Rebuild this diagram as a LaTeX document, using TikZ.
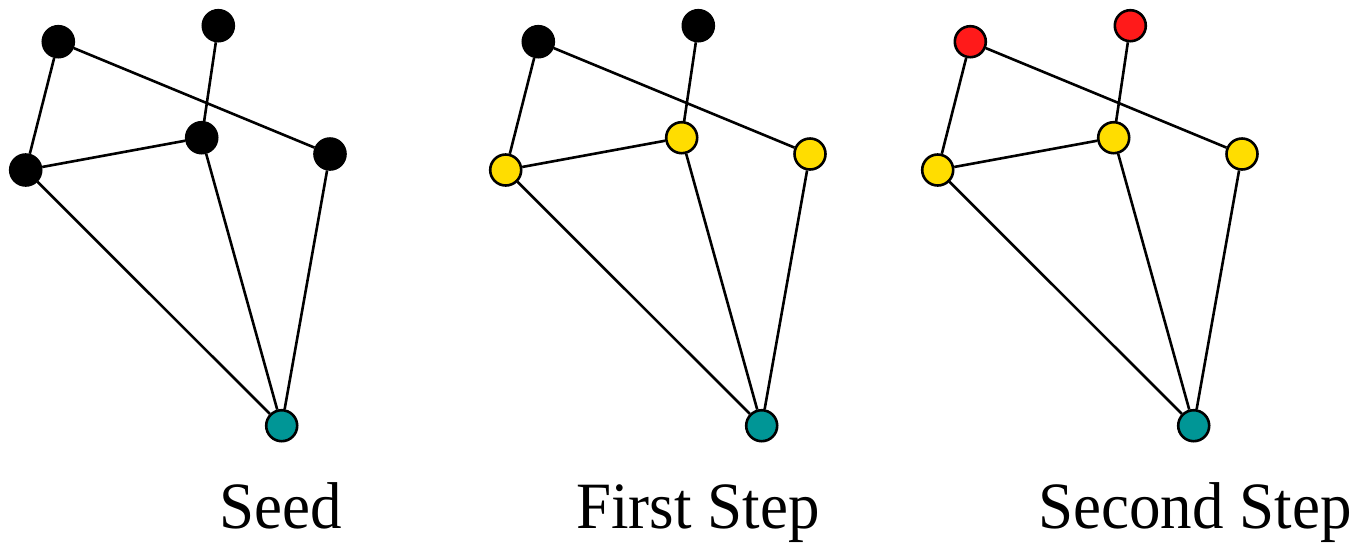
\documentclass[tikz,border=0pt]{standalone}
\usepackage{fontspec}
\setmainfont{Liberation Serif}
\definecolor{nodeyellow}{RGB}{255,221,0}
\definecolor{nodered}{RGB}{255,26,26}
\definecolor{nodeteal}{RGB}{0,150,150}
\tikzset{
  vtx/.style={circle, draw=black, line width=2.6pt, minimum size=31pt, inner sep=0pt},
  blk/.style={vtx, fill=black},
  yel/.style={vtx, fill=nodeyellow},
  rd/.style={vtx, fill=nodered},
  tl/.style={vtx, fill=nodeteal},
  edge/.style={line width=2.6pt, draw=black},
  lbl/.style={anchor=base, font=\fontsize{63}{70}\selectfont, inner sep=0pt, yscale=1.05}
}
\begin{document}
\begin{tikzpicture}[x=1pt,y=-1pt]
\useasboundingbox (0,0) rectangle (1360,542);
% Graph 1: Seed
\node[blk] (a1) at (58.3,41.7) {};
\node[blk] (b1) at (218.3,25.7) {};
\node[blk] (c1) at (25.7,170) {};
\node[blk] (d1) at (201.7,137.7) {};
\node[blk] (e1) at (330,154) {};
\node[tl]  (f1) at (281.7,425.7) {};
% Graph 2: First Step
\node[blk] (a2) at (538.3,41.7) {};
\node[blk] (b2) at (698.3,25.7) {};
\node[yel] (c2) at (505.7,170) {};
\node[yel] (d2) at (681.7,137.7) {};
\node[yel] (e2) at (810,154) {};
\node[tl]  (f2) at (761.7,425.7) {};
% Graph 3: Second Step
\node[rd]  (a3) at (970.3,41.7) {};
\node[rd]  (b3) at (1130.3,25.7) {};
\node[yel] (c3) at (937.7,170) {};
\node[yel] (d3) at (1113.7,137.7) {};
\node[yel] (e3) at (1242,154) {};
\node[tl]  (f3) at (1193.7,425.7) {};
\foreach \i in {1,2,3}{
  \draw[edge] (a\i) -- (e\i);
  \draw[edge] (a\i) -- (c\i);
  \draw[edge] (b\i) -- (d\i);
  \draw[edge] (c\i) -- (d\i);
  \draw[edge] (c\i) -- (f\i);
  \draw[edge] (d\i) -- (f\i);
  \draw[edge] (e\i) -- (f\i);
}
\node[lbl] (t1) at (281,528) {Seed};
\node[lbl] (t2) at (698,528) {First Step};
\node[lbl] (t3) at (1195,528) {Second Step};
\end{tikzpicture}
\end{document}
